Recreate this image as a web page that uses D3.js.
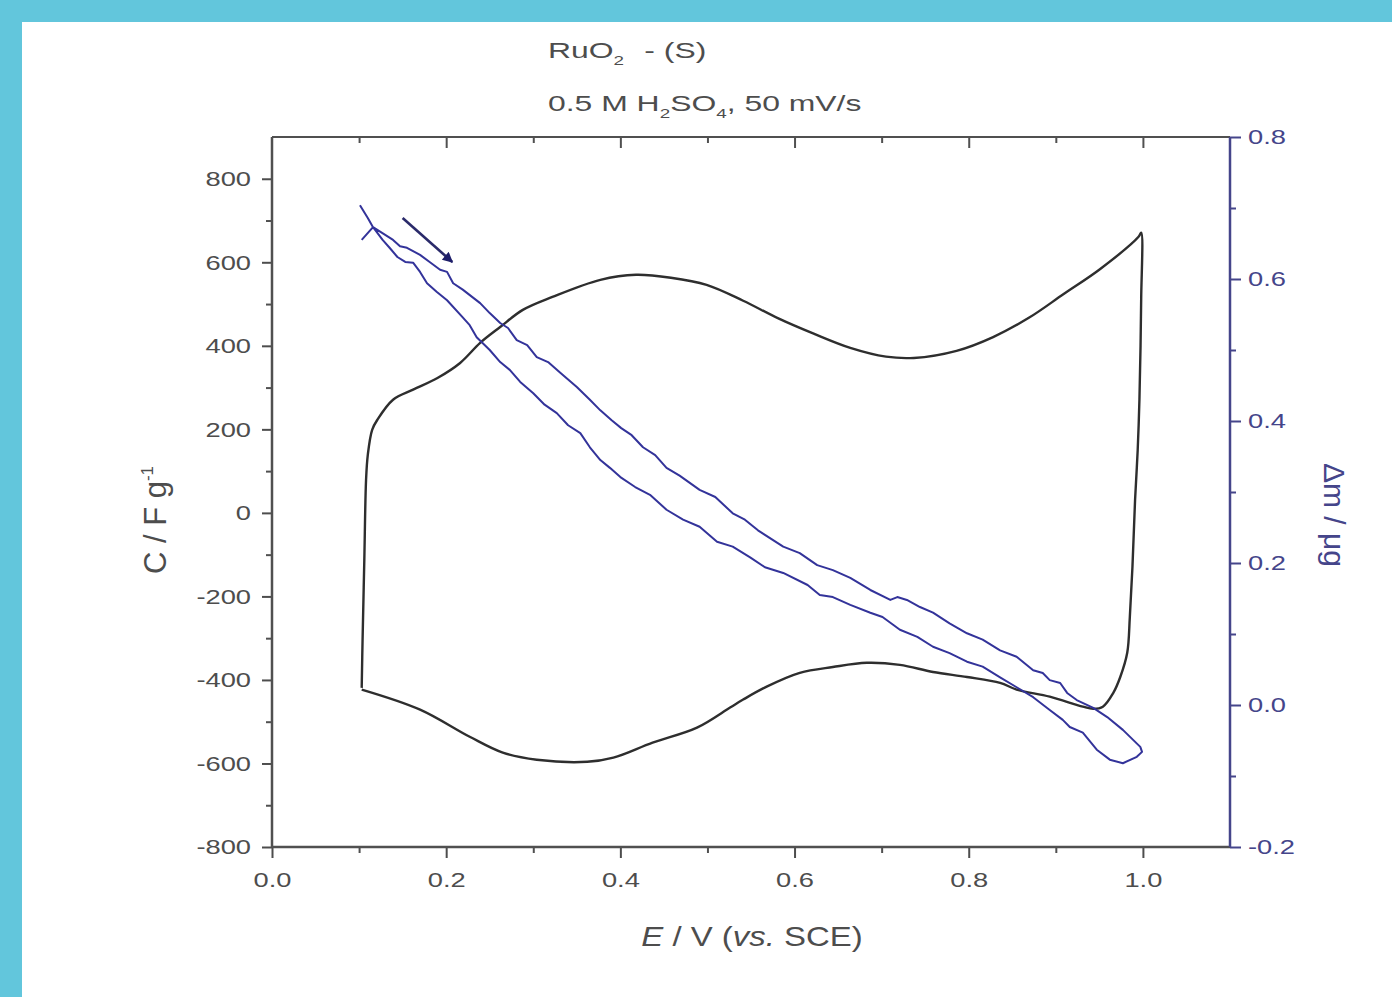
<!DOCTYPE html>
<html>
<head>
<meta charset="utf-8">
<script src="https://cdn.jsdelivr.net/npm/d3@7"></script>
<style>
  html, body { margin: 0; padding: 0; background: #62c6dc; }
  svg { display: block; }
  text { font-family: "Liberation Sans", Arial, sans-serif; }
</style>
</head>
<body>
<svg id="chart" width="1392" height="997"></svg>
<script>
// capacitance curve (black, left axis): potential E / V and C / F g-1
const blackE = [0.103, 0.104, 0.106, 0.108, 0.110, 0.115, 0.121, 0.139, 0.162, 0.190, 0.216, 0.239, 0.262, 0.288, 0.322, 0.377, 0.418, 0.458, 0.499, 0.541, 0.582, 0.622, 0.664, 0.705, 0.737, 0.786, 0.828, 0.869, 0.909, 0.951, 0.995, 0.998,
  0.998, 0.996, 0.994, 0.991, 0.988, 0.985, 0.982, 0.974, 0.966, 0.954, 0.943, 0.931, 0.893, 0.855, 0.836, 0.798, 0.759, 0.721, 0.683, 0.644, 0.606, 0.568, 0.541, 0.526, 0.488, 0.437, 0.392, 0.362, 0.304, 0.265, 0.227, 0.170, 0.103];
const blackC = [-419, -304, -113, 79, 139, 199, 223, 271, 295, 323, 359, 407, 445, 486, 517, 558, 570, 563, 546, 508, 465, 429, 395, 374, 371, 388, 421, 467, 524, 584, 661, 671,
  510, 271, 150, 31, -129, -249, -335, -393, -431, -464, -469, -464, -440, -423, -407, -393, -381, -364, -359, -369, -383, -416, -447, -466, -514, -550, -586, -596, -591, -574, -536, -471, -423];

// mass change curve (blue, right axis): potential E / V and delta m / ug
const blueE = [0.101, 0.110, 0.116, 0.139, 0.147, 0.155, 0.170, 0.181, 0.193, 0.201, 0.208, 0.219, 0.239, 0.250, 0.262, 0.271, 0.281, 0.293, 0.304, 0.317, 0.331, 0.350, 0.365, 0.377, 0.390, 0.401, 0.413, 0.426, 0.440, 0.453, 0.468, 0.491, 0.509, 0.529, 0.543, 0.558, 0.587, 0.606, 0.626, 0.644, 0.664, 0.687, 0.710, 0.718, 0.729, 0.744, 0.759, 0.778, 0.798, 0.816, 0.836, 0.855, 0.874, 0.885, 0.893, 0.905, 0.913, 0.924, 0.943, 0.959, 0.977, 0.997, 0.999,
  0.993, 0.977, 0.962, 0.947, 0.931, 0.916, 0.908, 0.893, 0.874, 0.855, 0.836, 0.816, 0.798, 0.778, 0.759, 0.741, 0.721, 0.701, 0.687, 0.664, 0.644, 0.629, 0.615, 0.587, 0.566, 0.549, 0.529, 0.511, 0.491, 0.472, 0.453, 0.434, 0.417, 0.400, 0.388, 0.377, 0.365, 0.354, 0.340, 0.327, 0.313, 0.300, 0.285, 0.273, 0.262, 0.250, 0.235, 0.227, 0.219, 0.201, 0.189, 0.178, 0.170, 0.162, 0.153, 0.144, 0.135, 0.127, 0.116, 0.103];
const blueM = [0.704, 0.686, 0.673, 0.655, 0.646, 0.644, 0.634, 0.624, 0.613, 0.610, 0.594, 0.585, 0.566, 0.552, 0.538, 0.531, 0.514, 0.507, 0.490, 0.483, 0.468, 0.448, 0.430, 0.415, 0.401, 0.390, 0.380, 0.363, 0.352, 0.334, 0.323, 0.303, 0.293, 0.270, 0.261, 0.246, 0.223, 0.214, 0.197, 0.190, 0.179, 0.162, 0.148, 0.152, 0.148, 0.138, 0.130, 0.115, 0.101, 0.092, 0.077, 0.068, 0.049, 0.045, 0.035, 0.031, 0.017, 0.007, -0.004, -0.017, -0.035, -0.059, -0.066,
  -0.073, -0.082, -0.077, -0.063, -0.039, -0.031, -0.021, -0.007, 0.011, 0.025, 0.039, 0.054, 0.061, 0.073, 0.082, 0.096, 0.106, 0.124, 0.130, 0.141, 0.152, 0.155, 0.169, 0.186, 0.194, 0.208, 0.223, 0.230, 0.251, 0.261, 0.275, 0.296, 0.307, 0.321, 0.334, 0.345, 0.363, 0.383, 0.394, 0.411, 0.423, 0.439, 0.455, 0.472, 0.483, 0.500, 0.518, 0.535, 0.546, 0.570, 0.582, 0.594, 0.610, 0.623, 0.624, 0.631, 0.644, 0.655, 0.673, 0.655];

// ticks
const eTicks = [0, 0.2, 0.4, 0.6, 0.8, 1.0];
const eMinor = [0.1, 0.3, 0.5, 0.7, 0.9];
const cTicks = [-800, -600, -400, -200, 0, 200, 400, 600, 800];
const cMinor = [-700, -500, -300, -100, 100, 300, 500, 700];
const mTicks = [-0.2, 0, 0.2, 0.4, 0.6, 0.8];
const mMinor = [-0.1, 0.1, 0.3, 0.5, 0.7];

// scan direction arrow, [E, delta m]
const arrowFrom = [0.150, 0.686];
const arrowTo = [0.207, 0.624];

const svg = d3.select("#chart");
const grey = "#505050";
const navy = "#45458a";
const textGrey = "#4d4d4d";
const stretch = 1.3; // the source picture is widened, so text is too

// white panel on the teal background
svg.append("rect").attr("x", 22).attr("y", 22).attr("width", 1392 - 22).attr("height", 997 - 22).attr("fill", "#ffffff");

const pLeft = 272, pRight = 1230, pTop = 137, pBottom = 847;
const x = d3.scaleLinear().domain([0, 1.1]).range([pLeft, pRight]);
const yL = d3.scaleLinear().domain([-800, 900]).range([pBottom, pTop]);
const yR = d3.scaleLinear().domain([-0.2, 0.8]).range([pBottom, pTop]);

const hyphen = f => d => f(d).replace("\u2212", "-");

function styleAxis(g, color, size) {
  g.select(".domain").remove();
  g.selectAll("line").attr("stroke", color).attr("stroke-width", 2);
  g.selectAll("text").attr("fill", color).style("font-size", size + "px")
    .each(function () {
      const t = d3.select(this);
      const x0 = +t.attr("x") || 0;
      t.attr("x", x0 / stretch).attr("transform", `scale(${stretch},1)`);
    });
}

// bottom axis
svg.append("g").attr("transform", `translate(0,${pBottom})`)
  .call(d3.axisBottom(x).tickValues(eMinor).tickSize(6).tickFormat(""))
  .call(g => styleAxis(g, grey, 20));
svg.append("g").attr("transform", `translate(0,${pBottom})`)
  .call(d3.axisBottom(x).tickValues(eTicks).tickSize(11).tickPadding(14).tickFormat(d3.format(".1f")))
  .call(g => styleAxis(g, textGrey, 21));

// top axis, ticks inward
svg.append("g").attr("transform", `translate(0,${pTop})`)
  .call(d3.axisBottom(x).tickValues(eMinor).tickSize(6).tickFormat(""))
  .call(g => styleAxis(g, grey, 20));
svg.append("g").attr("transform", `translate(0,${pTop})`)
  .call(d3.axisBottom(x).tickValues(eTicks.slice(1)).tickSize(11).tickFormat(""))
  .call(g => styleAxis(g, grey, 20));

// left axis
svg.append("g").attr("transform", `translate(${pLeft},0)`)
  .call(d3.axisLeft(yL).tickValues(cMinor).tickSize(6).tickFormat(""))
  .call(g => styleAxis(g, grey, 20));
svg.append("g").attr("transform", `translate(${pLeft},0)`)
  .call(d3.axisLeft(yL).tickValues(cTicks).tickSize(10).tickPadding(11).tickFormat(hyphen(d3.format("d"))))
  .call(g => styleAxis(g, textGrey, 21));

// right axis
svg.append("g").attr("transform", `translate(${pRight},0)`)
  .call(d3.axisRight(yR).tickValues(mMinor).tickSize(6).tickFormat(""))
  .call(g => styleAxis(g, navy, 20));
svg.append("g").attr("transform", `translate(${pRight},0)`)
  .call(d3.axisRight(yR).tickValues(mTicks).tickSize(11).tickPadding(7).tickFormat(hyphen(d3.format(".1f"))))
  .call(g => styleAxis(g, navy, 21));

// frame
svg.append("line").attr("x1", pLeft).attr("x2", pRight).attr("y1", pTop).attr("y2", pTop).attr("stroke", grey).attr("stroke-width", 2);
svg.append("line").attr("x1", pLeft).attr("x2", pRight).attr("y1", pBottom).attr("y2", pBottom).attr("stroke", grey).attr("stroke-width", 2.5);
svg.append("line").attr("x1", pLeft).attr("x2", pLeft).attr("y1", pTop).attr("y2", pBottom).attr("stroke", grey).attr("stroke-width", 2.5);
svg.append("line").attr("x1", pRight).attr("x2", pRight).attr("y1", pTop).attr("y2", pBottom).attr("stroke", navy).attr("stroke-width", 2.5);

// curves
const blackPts = blackE.map((e, i) => [e, blackC[i]]);
const bluePts = blueE.map((e, i) => [e, blueM[i]]);

svg.append("path")
  .attr("d", d3.line().x(d => x(d[0])).y(d => yL(d[1])).curve(d3.curveCatmullRom.alpha(0.5))(blackPts))
  .attr("fill", "none").attr("stroke", "#2e2e2e").attr("stroke-width", 2.4);

svg.append("path")
  .attr("d", d3.line().x(d => x(d[0])).y(d => yR(d[1]))(bluePts))
  .attr("fill", "none").attr("stroke", "#33339a").attr("stroke-width", 2)
  .attr("stroke-linejoin", "round");

// arrow
svg.append("defs").append("marker")
  .attr("id", "head").attr("viewBox", "0 0 10 10").attr("refX", 9).attr("refY", 5)
  .attr("markerWidth", 5).attr("markerHeight", 4).attr("orient", "auto")
  .append("path").attr("d", "M0,0 L10,5 L0,10 z").attr("fill", "#1e1e6a");
svg.append("line")
  .attr("x1", x(arrowFrom[0])).attr("y1", yR(arrowFrom[1]))
  .attr("x2", x(arrowTo[0])).attr("y2", yR(arrowTo[1]))
  .attr("stroke", "#2a2a6a").attr("stroke-width", 2.6).attr("marker-end", "url(#head)");

// titles (widened like the source)
const t1 = svg.append("text").attr("transform", "translate(548,58) scale(1.45,1)")
  .attr("fill", textGrey).style("font-size", "22px");
t1.append("tspan").text("RuO");
t1.append("tspan").attr("dy", 7).style("font-size", "13px").text("2");
t1.append("tspan").attr("dy", -7).attr("dx", 14).text("- (S)");

const t2 = svg.append("text").attr("transform", "translate(548,111) scale(1.45,1)")
  .attr("fill", textGrey).style("font-size", "22px");
t2.append("tspan").text("0.5 M H");
t2.append("tspan").attr("dy", 7).style("font-size", "13px").text("2");
t2.append("tspan").attr("dy", -7).text("SO");
t2.append("tspan").attr("dy", 7).style("font-size", "13px").text("4");
t2.append("tspan").attr("dy", -7).text(", 50 mV/s");

// x axis title
const xt = svg.append("text").attr("transform", "translate(752,946) scale(1.22,1)").attr("text-anchor", "middle")
  .attr("fill", textGrey).style("font-size", "27px");
xt.append("tspan").style("font-style", "italic").text("E");
xt.append("tspan").text(" / V (");
xt.append("tspan").style("font-style", "italic").text("vs.");
xt.append("tspan").text(" SCE)");

// left axis title
const yt = svg.append("text").attr("transform", "translate(166,520) rotate(-90)").attr("text-anchor", "middle")
  .attr("fill", textGrey).style("font-size", "31px");
yt.append("tspan").text("C / F g");
yt.append("tspan").attr("dy", -13).style("font-size", "17px").text("-1");

// right axis title
svg.append("text").attr("transform", "translate(1324,515) rotate(90)").attr("text-anchor", "middle")
  .attr("fill", navy).style("font-size", "30px").text("Δm / μg");
</script>
</body>
</html>
